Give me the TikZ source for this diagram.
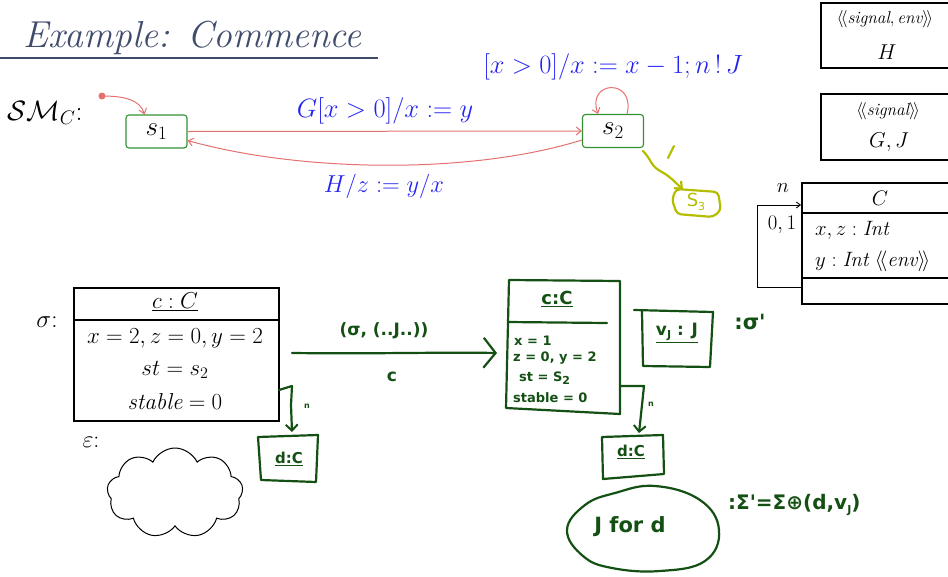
\RequirePackage{fix-cm}
\documentclass[tikz,border=0pt]{standalone}
\usepackage{fontspec}
\usetikzlibrary{arrows.meta,shapes.symbols,calc}
\newfontfamily\handfont{DejaVu Sans}
\definecolor{titlecol}{RGB}{64,76,108}
\definecolor{stgreen}{RGB}{50,145,50}
\definecolor{trred}{RGB}{230,112,112}
\definecolor{lblblue}{RGB}{36,36,240}
\definecolor{hgreen}{RGB}{20,80,20}
\definecolor{ygreen}{RGB}{180,190,0}
\newcommand{\hsub}[1]{\raisebox{-0.35ex}{\fontsize{11}{11}\selectfont #1}}
\newcommand{\fs}[1]{\fontsize{#1}{#1}\selectfont}
\begin{document}
\begin{tikzpicture}[x=1pt,y=-1pt,
  every node/.style={font=\fs{23}, inner sep=0pt},
  state/.style={draw=stgreen, line width=1.1pt, rounded corners=3pt, minimum width=61pt, minimum height=33pt, font=\fs{27}},
  trans/.style={draw=trred, line width=1pt, -{Straight Barb[length=5pt,width=8pt]}},
  lbl/.style={text=lblblue},
  umlbox/.style={draw, line width=1.6pt},
  hand/.style={draw=hgreen, line width=2.2pt, line cap=round, line join=round},
  htext/.style={text=hgreen, font=\handfont\bfseries\fs{13}},
  ytext/.style={text=ygreen, font=\handfont\fs{18}},
]
\useasboundingbox (0,0) rectangle (948,576);
\clip (0,0) rectangle (948,576);

% title
\node[anchor=base west, font=\fs{37.5}\itshape, text=titlecol] (title) at (23,47) {Example: Commence};
\draw[titlecol, line width=2.5pt] (0,58) -- (378,58);

% state machine
\node[anchor=west, font=\fs{28}] (smlabel) at (7,113) {$\mathcal{SM}_C$:};
\node[state] (s1) at (156.5,131.5) {$s_1$};
\node[state] (s2) at (613,131) {$s_2$};
\coordinate (init) at (102,96);
\fill[trred] (init) circle (3.5pt);
\draw[trans] (init) .. controls (125,96) and (140,100) .. ([xshift=-12pt]s1.north);
\draw[trans] (s1.east) -- (s2.west);
\node[lbl, font=\fs{26.5}] (l1) at (385,111) {$G[x>0]/x := y$};
\draw[trans] ([yshift=-9pt]s2.west) .. controls (470,175) and (300,172) .. ([yshift=-9pt]s1.east);
\node[lbl, font=\fs{24.5}] (l2) at (384,186) {$H/z := y/x$};
\draw[trans] ([xshift=14pt]s2.north) .. controls (636,78) and (586,80) .. ([xshift=-15pt]s2.north);
\node[lbl, font=\fs{26.4}] (l3) at (613,67) {$[x>0]/x := x-1; n\,!\,J$};

% yellow-green handwriting
\coordinate (y0) at (643,151);
\coordinate (y1) at (683,190);
\draw[ygreen, line width=2.2pt, line cap=round, -{Straight Barb[length=6pt,width=10pt]}] (y0) .. controls (652,160) and (650,166) .. (662,172) .. controls (672,178) and (676,183) .. (y1);
\draw[ygreen, line width=2.2pt, line cap=round] (668,158) -- (674,146);
\draw[ygreen, line width=2.2pt, rounded corners=4pt] (676,189) -- (718,192) -- (721,210) -- (713,217) -- (677,214) -- (672,200) -- cycle;
\node[ytext] (s3) at (696,202) {S\hsub{3}};

% signal boxes
\draw[umlbox] (821,3) rectangle (955,68);
\node[font=\fs{17.28}] (sig1) at (885,19) {$\langle\!\langle \mathit{signal}, \mathit{env}\rangle\!\rangle$};
\node[font=\fs{21.5}] (H) at (887,52) {$H$};
\draw[umlbox] (821,94) rectangle (955,160);
\node[font=\fs{17.28}] (sig2) at (888,111) {$\langle\!\langle \mathit{signal}\rangle\!\rangle$};
\node[font=\fs{21.5}] (GJ) at (889,142) {$G, J$};

% class C
\node[umlbox, minimum width=154pt, minimum height=121pt, anchor=north west] (Cbox) at (801,182) {};
\draw[line width=1.6pt] (801,213) -- (955,213);
\draw[line width=1.6pt] (801,278) -- (955,278);
\node[font=\fs{21}] (Cname) at (880,198) {$C$};
\node[anchor=west, font=\fs{20.74}] (attr1) at (815,230) {$x, z : \mathit{Int}$};
\node[anchor=west, font=\fs{20.74}] (attr2) at (815,261) {$y : \mathit{Int}\ \langle\!\langle \mathit{env}\rangle\!\rangle$};
\coordinate (as1) at (801,287);
\coordinate (as2) at (801,205);
\draw[line width=0.9pt, -{Straight Barb[length=4pt,width=6pt]}] (as1) -- (757,287) -- (757,205) -- (as2);
\node[font=\fs{20.74}] (n) at (783,188) {$n$};
\node[font=\fs{20.74}] (mult) at (782,225) {$0,1$};

% sigma
\node[font=\fs{25}] (sigma) at (47,322) {$\sigma$:};
\node[umlbox, minimum width=205pt, minimum height=133pt, anchor=north west] (obj) at (73,287) {};
\draw[line width=1.6pt] (73,320) -- (278,320);
\node (objname) at (175,302) {\underline{$c : C$}};
\node (o1) at (175,338) {$x = 2, z = 0, y = 2$};
\node (o2) at (175,370) {$st = s_2$};
\node (o3) at (175,402) {$\mathit{stable} = 0$};

% epsilon
\node[font=\fs{24}] (eps) at (91,442) {$\varepsilon$:};
\node[cloud, draw, line width=1pt, cloud puffs=9, cloud puff arc=130, minimum width=136pt, minimum height=90pt] (envc) at (175,493) {};

% dark green handwriting
\coordinate (ma) at (292,353);
\coordinate (mb) at (497,353);
\draw[hand, -{Straight Barb[length=12pt,width=30pt,line width=2.2pt]}] (ma) .. controls (380,354) and (440,352) .. (mb);
\node[htext, font=\handfont\bfseries\fs{17}] (tl) at (384,331) {(σ, (..J..))};
\node[htext, font=\handfont\bfseries\fs{17}] (tc) at (392,377) {c};

% left hook to d:C
\coordinate (h1) at (279,390);
\coordinate (h2) at (292,432);
\draw[hand, -{Straight Barb[length=6pt,width=12pt,line width=2pt]}] (h1) -- (292,386) -- (291,405) -- (h2);
\node[htext, font=\handfont\bfseries\fs{8}] (hn1) at (307,406) {n};
\draw[hand] (258,437) -- (318,435) -- (316,482) -- (261,480) -- (258,437);
\node[htext, font=\handfont\bfseries\fs{15}] (d1) at (289,459) {\underline{d:C}};

% c:C handwritten object
\draw[hand] (509,280) -- (620,281) -- (620,414) -- (506,408) -- (509,280);
\draw[hand] (508,322) -- (607,323);
\node[htext, font=\handfont\bfseries\fs{18}] (cc) at (557,299) {\underline{c:C}};
\node[htext, anchor=west] (c1) at (514,341) {x = 1};
\node[htext, anchor=west] (c2) at (513,358) {z = 0, y = 2};
\node[htext, anchor=west] (c3) at (519,378) {st = S\hsub{2}};
\node[htext, anchor=west] (c4) at (513,398) {stable = 0};

% v_J box
\draw[hand] (634,310) -- (713,312) -- (710,367) -- (643,366) -- (642,312);
\node[htext, font=\handfont\bfseries\fs{17}] (vj) at (677,333) {\underline{v\hsub{J} : J}};
\node[htext, font=\handfont\bfseries\fs{21}] (sp) at (750,322) {:σ'};

% right hook to d:C
\coordinate (r1) at (620,386);
\coordinate (r2) at (639,433);
\draw[hand, -{Straight Barb[length=6pt,width=12pt,line width=2pt]}] (r1) -- (644,386) -- (642,405) -- (r2);
\node[htext, font=\handfont\bfseries\fs{8}] (hn2) at (651,404) {n};
\draw[hand] (602,437) -- (663,435) -- (664,474) -- (603,479) -- (602,437);
\node[htext, font=\handfont\bfseries\fs{15}] (d2) at (631,452) {\underline{d:C}};

% J for d blob
\draw[hand] plot[smooth cycle, tension=0.7] coordinates {(615,493) (655,486) (700,500) (719,530) (705,561) (660,571) (612,568) (583,556) (567,530) (585,505)};
\node[htext, font=\handfont\bfseries\fs{21}] (jd) at (630,527) {J for d};
\node[htext, anchor=west, font=\handfont\bfseries\fs{20}] (sig) at (728,505) {:Σ'=Σ⊕(d,v\hsub{J})};
\end{tikzpicture}
\end{document}
